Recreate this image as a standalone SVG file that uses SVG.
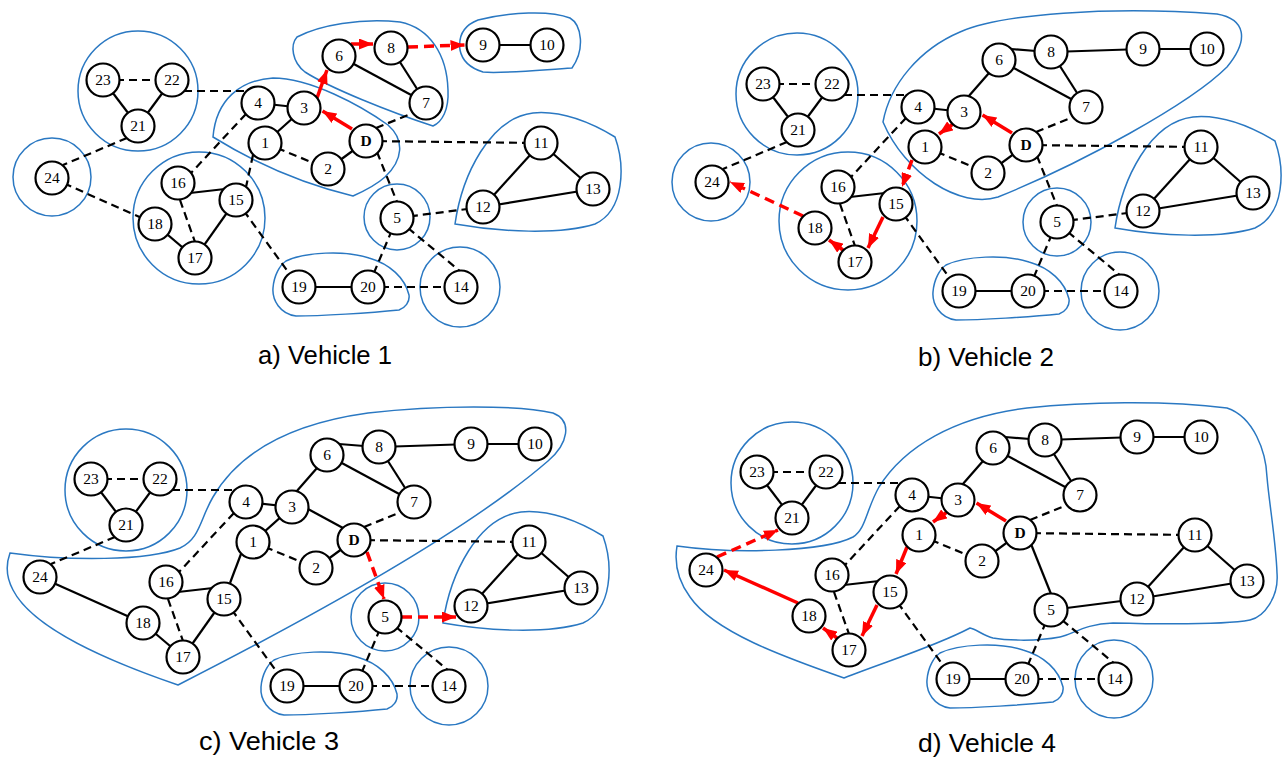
<svg xmlns="http://www.w3.org/2000/svg" width="1287" height="758" viewBox="0 0 1287 758">
<style>
.n circle{fill:#fff;stroke:#000;stroke-width:2.2}
.n text{font-family:"Liberation Serif",serif;font-size:15.5px;text-anchor:middle;fill:#000}
.n.b text{font-weight:bold}
.e line{stroke:#000;stroke-width:2.2;fill:none}
.e line.d{stroke-dasharray:8 5}
.r line{stroke:#f00;stroke-width:3.5;fill:none;marker-end:url(#ah)}
.r line.d{stroke-dasharray:10 6}
.h circle,.h path{fill:none;stroke:#2a78c2;stroke-width:1.5}
.cap{font-family:"Liberation Sans",Arial,sans-serif;font-size:25px;fill:#000}
</style>
<defs>
<marker id="ah" markerUnits="userSpaceOnUse" markerWidth="14" markerHeight="11" refX="14" refY="5.5" orient="auto"><path d="M0,0 L14,5.5 L0,11 Z" fill="#f00"/></marker>
</defs>
<rect width="1287" height="758" fill="#fff"/>

<!-- ================= Panel a ================= -->
<g id="panel-a">
<g id="a-clusters" class="h">
<circle cx="138" cy="91" r="60"/>
<circle cx="52" cy="177" r="39"/>
<circle cx="199" cy="218" r="66"/>
<circle cx="397" cy="217" r="33"/>
<circle cx="460" cy="287" r="40"/>
<path d="M213,137 C216,100 240,80 273,78 C310,78 360,105 388,125 C405,140 403,160 385,177 C375,186 362,192 353,196 C300,183 255,163 213,137 Z"/>
<path d="M297,37 C320,25 360,18 400,22 C430,28 447,55 448,90 C449,110 442,122 433,126 C390,112 330,88 305,72 C292,62 290,45 297,37 Z"/>
<path d="M460,50 C458,35 465,25 478,20 C510,12 550,10 570,18 C582,25 585,50 572,68 C540,70 500,74 483,72 C470,68 462,60 460,50 Z"/>
<path d="M455,224 C462,175 490,118 533,113 C565,110 595,125 615,137 C625,165 625,210 595,224 C560,235 500,232 455,224 Z"/>
<path d="M286,261 C305,252 345,250 369,258 C390,264 405,278 409,295 C410,302 405,308 399,310 C370,313 320,316 296,316 C280,314 272,300 273,288 C274,275 280,265 286,261 Z"/>
</g>
<g id="a-connectors">
<g class="e">
<line x1="103" y1="80" x2="172" y2="80" class="d"/>
<line x1="103" y1="80" x2="138" y2="126"/>
<line x1="172" y1="80" x2="138" y2="126"/>
<line x1="184" y1="91" x2="247" y2="91" class="d"/>
<line x1="258" y1="103" x2="304" y2="108"/>
<line x1="246" y1="114" x2="191" y2="173" class="d"/>
<line x1="265" y1="143" x2="328" y2="169" class="d"/>
<line x1="328" y1="169" x2="366" y2="141"/>
<line x1="190" y1="193" x2="225" y2="189"/>
<line x1="180" y1="200" x2="195" y2="242" class="d"/>
<line x1="236" y1="200" x2="299" y2="287" class="d"/>
<line x1="299" y1="287" x2="368" y2="287"/>
<line x1="368" y1="287" x2="461" y2="287" class="d"/>
<line x1="397" y1="218" x2="368" y2="287" class="d"/>
<line x1="408" y1="228" x2="461" y2="272" class="d"/>
<line x1="339" y1="56" x2="426" y2="103"/>
<line x1="391" y1="48" x2="426" y2="103"/>
<line x1="483" y1="45" x2="547" y2="45"/>
<line x1="541" y1="143" x2="483" y2="207"/>
<line x1="541" y1="143" x2="593" y2="189"/>
<line x1="483" y1="207" x2="593" y2="189"/>
<line x1="376" y1="128" x2="413" y2="113" class="d"/>
<line x1="366" y1="141" x2="541" y2="143" class="d"/>
<line x1="127" y1="138" x2="63" y2="165" class="d"/>
<line x1="52" y1="178" x2="155" y2="224" class="d"/>
<line x1="304" y1="108" x2="265" y2="143"/>
<line x1="253" y1="155" x2="246" y2="187" class="d"/>
<line x1="236" y1="200" x2="195" y2="258"/>
<line x1="155" y1="224" x2="195" y2="258"/>
<line x1="377" y1="152" x2="397" y2="202" class="d"/>
<line x1="397" y1="218" x2="483" y2="207" class="d"/>
</g>
<g class="r">
<line x1="352" y1="129" x2="322.5" y2="111"/>
<line x1="317" y1="98" x2="327" y2="70"/>
<line x1="351" y1="44" x2="373" y2="44"/>
<line x1="408" y1="47" x2="464.5" y2="45" class="d"/>
</g>
</g>
<g id="a-nodes">
<g id="a1" class="n" transform="translate(265,143)"><circle r="16.5"/><text y="5.2">1</text></g>
<g id="a2" class="n" transform="translate(328,169)"><circle r="16.5"/><text y="5.2">2</text></g>
<g id="a3" class="n" transform="translate(304,108)"><circle r="16.5"/><text y="5.2">3</text></g>
<g id="a4" class="n" transform="translate(258,103)"><circle r="16.5"/><text y="5.2">4</text></g>
<g id="a5" class="n" transform="translate(397,218)"><circle r="16.5"/><text y="5.2">5</text></g>
<g id="a6" class="n" transform="translate(339,56)"><circle r="16.5"/><text y="5.2">6</text></g>
<g id="a7" class="n" transform="translate(426,103)"><circle r="16.5"/><text y="5.2">7</text></g>
<g id="a8" class="n" transform="translate(391,48)"><circle r="16.5"/><text y="5.2">8</text></g>
<g id="a9" class="n" transform="translate(483,45)"><circle r="16.5"/><text y="5.2">9</text></g>
<g id="a10" class="n" transform="translate(547,45)"><circle r="16.5"/><text y="5.2">10</text></g>
<g id="a11" class="n" transform="translate(541,143)"><circle r="16.5"/><text y="5.2">11</text></g>
<g id="a12" class="n" transform="translate(483,207)"><circle r="16.5"/><text y="5.2">12</text></g>
<g id="a13" class="n" transform="translate(593,189)"><circle r="16.5"/><text y="5.2">13</text></g>
<g id="a14" class="n" transform="translate(461,287)"><circle r="16.5"/><text y="5.2">14</text></g>
<g id="a15" class="n" transform="translate(236,200)"><circle r="16.5"/><text y="5.2">15</text></g>
<g id="a16" class="n" transform="translate(178,183)"><circle r="16.5"/><text y="5.2">16</text></g>
<g id="a17" class="n" transform="translate(195,258)"><circle r="16.5"/><text y="5.2">17</text></g>
<g id="a18" class="n" transform="translate(155,224)"><circle r="16.5"/><text y="5.2">18</text></g>
<g id="a19" class="n" transform="translate(299,287)"><circle r="16.5"/><text y="5.2">19</text></g>
<g id="a20" class="n" transform="translate(368,287)"><circle r="16.5"/><text y="5.2">20</text></g>
<g id="a21" class="n" transform="translate(138,126)"><circle r="16.5"/><text y="5.2">21</text></g>
<g id="a22" class="n" transform="translate(172,80)"><circle r="16.5"/><text y="5.2">22</text></g>
<g id="a23" class="n" transform="translate(103,80)"><circle r="16.5"/><text y="5.2">23</text></g>
<g id="a24" class="n" transform="translate(52,178)"><circle r="16.5"/><text y="5.2">24</text></g>
<g id="aD" class="n b" transform="translate(366,141)"><circle r="16.5"/><text y="5.2">D</text></g>
</g>
</g>

<!-- ================= Panel b ================= -->
<g id="panel-b" transform="translate(660,4)">
<g id="b-clusters" class="h">
<circle cx="137" cy="90" r="61"/>
<circle cx="51" cy="178" r="39"/>
<circle cx="188" cy="217" r="69"/>
<circle cx="397" cy="218" r="34"/>
<circle cx="460" cy="287" r="39"/>
<path d="M223,118 C230,80 260,45 300,28 C340,10 450,2 557,10 C585,15 590,35 567,63 C530,100 420,160 338,193 C300,205 245,170 223,118 Z"/>
<path d="M455,224 C462,175 490,118 533,113 C565,110 595,125 615,137 C625,165 625,210 595,224 C560,235 500,232 455,224 Z"/>
<path d="M286,261 C305,252 345,250 369,258 C390,264 405,278 409,295 C410,302 405,308 399,310 C370,313 320,316 296,316 C280,314 272,300 273,288 C274,275 280,265 286,261 Z"/>
</g>
<g id="b-connectors">
<g class="e">
<line x1="103" y1="80" x2="172" y2="80" class="d"/>
<line x1="103" y1="80" x2="138" y2="126"/>
<line x1="172" y1="80" x2="138" y2="126"/>
<line x1="184" y1="91" x2="247" y2="91" class="d"/>
<line x1="258" y1="103" x2="304" y2="108"/>
<line x1="246" y1="114" x2="191" y2="173" class="d"/>
<line x1="265" y1="143" x2="328" y2="169" class="d"/>
<line x1="328" y1="169" x2="366" y2="141"/>
<line x1="190" y1="193" x2="225" y2="189"/>
<line x1="180" y1="200" x2="195" y2="242" class="d"/>
<line x1="236" y1="200" x2="299" y2="287" class="d"/>
<line x1="299" y1="287" x2="368" y2="287"/>
<line x1="368" y1="287" x2="461" y2="287" class="d"/>
<line x1="397" y1="218" x2="368" y2="287" class="d"/>
<line x1="408" y1="228" x2="461" y2="272" class="d"/>
<line x1="339" y1="56" x2="426" y2="103"/>
<line x1="391" y1="48" x2="426" y2="103"/>
<line x1="483" y1="45" x2="547" y2="45"/>
<line x1="541" y1="143" x2="483" y2="207"/>
<line x1="541" y1="143" x2="593" y2="189"/>
<line x1="483" y1="207" x2="593" y2="189"/>
<line x1="376" y1="128" x2="413" y2="113" class="d"/>
<line x1="366" y1="141" x2="541" y2="143" class="d"/>
<line x1="127" y1="138" x2="63" y2="165" class="d"/>
<line x1="308" y1="93" x2="329" y2="69"/>
<line x1="351" y1="45" x2="376" y2="47"/>
<line x1="391" y1="48" x2="483" y2="45"/>
<line x1="377" y1="152" x2="397" y2="202" class="d"/>
<line x1="397" y1="218" x2="483" y2="207" class="d"/>
</g>
<g class="r">
<line x1="352" y1="129" x2="322.5" y2="111"/>
<line x1="293" y1="120" x2="279" y2="130"/>
<line x1="252" y1="156" x2="242" y2="183" class="d"/>
<line x1="223" y1="213" x2="208" y2="244"/>
<line x1="183" y1="246" x2="169" y2="236"/>
<line x1="143" y1="212" x2="70" y2="178" class="d"/>
</g>
</g>
<g id="b-nodes">
<g id="b1" class="n" transform="translate(265,143)"><circle r="16.5"/><text y="5.2">1</text></g>
<g id="b2" class="n" transform="translate(328,169)"><circle r="16.5"/><text y="5.2">2</text></g>
<g id="b3" class="n" transform="translate(304,108)"><circle r="16.5"/><text y="5.2">3</text></g>
<g id="b4" class="n" transform="translate(258,103)"><circle r="16.5"/><text y="5.2">4</text></g>
<g id="b5" class="n" transform="translate(397,218)"><circle r="16.5"/><text y="5.2">5</text></g>
<g id="b6" class="n" transform="translate(339,56)"><circle r="16.5"/><text y="5.2">6</text></g>
<g id="b7" class="n" transform="translate(426,103)"><circle r="16.5"/><text y="5.2">7</text></g>
<g id="b8" class="n" transform="translate(391,48)"><circle r="16.5"/><text y="5.2">8</text></g>
<g id="b9" class="n" transform="translate(483,45)"><circle r="16.5"/><text y="5.2">9</text></g>
<g id="b10" class="n" transform="translate(547,45)"><circle r="16.5"/><text y="5.2">10</text></g>
<g id="b11" class="n" transform="translate(541,143)"><circle r="16.5"/><text y="5.2">11</text></g>
<g id="b12" class="n" transform="translate(483,207)"><circle r="16.5"/><text y="5.2">12</text></g>
<g id="b13" class="n" transform="translate(593,189)"><circle r="16.5"/><text y="5.2">13</text></g>
<g id="b14" class="n" transform="translate(461,287)"><circle r="16.5"/><text y="5.2">14</text></g>
<g id="b15" class="n" transform="translate(236,200)"><circle r="16.5"/><text y="5.2">15</text></g>
<g id="b16" class="n" transform="translate(178,183)"><circle r="16.5"/><text y="5.2">16</text></g>
<g id="b17" class="n" transform="translate(195,258)"><circle r="16.5"/><text y="5.2">17</text></g>
<g id="b18" class="n" transform="translate(155,224)"><circle r="16.5"/><text y="5.2">18</text></g>
<g id="b19" class="n" transform="translate(299,287)"><circle r="16.5"/><text y="5.2">19</text></g>
<g id="b20" class="n" transform="translate(368,287)"><circle r="16.5"/><text y="5.2">20</text></g>
<g id="b21" class="n" transform="translate(138,126)"><circle r="16.5"/><text y="5.2">21</text></g>
<g id="b22" class="n" transform="translate(172,80)"><circle r="16.5"/><text y="5.2">22</text></g>
<g id="b23" class="n" transform="translate(103,80)"><circle r="16.5"/><text y="5.2">23</text></g>
<g id="b24" class="n" transform="translate(52,178)"><circle r="16.5"/><text y="5.2">24</text></g>
<g id="bD" class="n b" transform="translate(366,141)"><circle r="16.5"/><text y="5.2">D</text></g>
</g>
</g>

<!-- ================= Panel c ================= -->
<g id="panel-c" transform="translate(-12,399)">
<g id="c-clusters" class="h">
<circle cx="138" cy="91" r="61"/>
<circle cx="397" cy="218" r="34"/>
<circle cx="461" cy="287" r="39"/>
<path d="M22,154 C80,162 160,162 192,149 C212,140 212,120 225,98 C250,55 300,25 380,14 C450,6 530,6 565,14 C585,22 580,45 560,62 C470,140 300,230 190,286 C120,262 45,230 25,191 C18,178 18,165 22,154 Z"/>
<path d="M455,224 C462,175 490,118 533,113 C565,110 595,125 615,137 C625,165 625,210 595,224 C560,235 500,232 455,224 Z"/>
<path d="M286,261 C305,252 345,250 369,258 C390,264 405,278 409,295 C410,302 405,308 399,310 C370,313 320,316 296,316 C280,314 272,300 273,288 C274,275 280,265 286,261 Z"/>
</g>
<g id="c-connectors">
<g class="e">
<line x1="103" y1="80" x2="172" y2="80" class="d"/>
<line x1="103" y1="80" x2="138" y2="126"/>
<line x1="172" y1="80" x2="138" y2="126"/>
<line x1="184" y1="91" x2="247" y2="91" class="d"/>
<line x1="258" y1="103" x2="304" y2="108"/>
<line x1="246" y1="114" x2="191" y2="173" class="d"/>
<line x1="265" y1="143" x2="328" y2="169" class="d"/>
<line x1="328" y1="169" x2="366" y2="141"/>
<line x1="190" y1="193" x2="225" y2="189"/>
<line x1="180" y1="200" x2="195" y2="242" class="d"/>
<line x1="236" y1="200" x2="299" y2="287" class="d"/>
<line x1="299" y1="287" x2="368" y2="287"/>
<line x1="368" y1="287" x2="461" y2="287" class="d"/>
<line x1="397" y1="218" x2="368" y2="287" class="d"/>
<line x1="408" y1="228" x2="461" y2="272" class="d"/>
<line x1="339" y1="56" x2="426" y2="103"/>
<line x1="391" y1="48" x2="426" y2="103"/>
<line x1="483" y1="45" x2="547" y2="45"/>
<line x1="541" y1="143" x2="483" y2="207"/>
<line x1="541" y1="143" x2="593" y2="189"/>
<line x1="483" y1="207" x2="593" y2="189"/>
<line x1="376" y1="128" x2="413" y2="113" class="d"/>
<line x1="366" y1="141" x2="541" y2="143" class="d"/>
<line x1="127" y1="138" x2="63" y2="165" class="d"/>
<line x1="52" y1="178" x2="155" y2="224"/>
<line x1="304" y1="108" x2="265" y2="143"/>
<line x1="253" y1="155" x2="242" y2="184"/>
<line x1="236" y1="200" x2="195" y2="258"/>
<line x1="155" y1="224" x2="195" y2="258"/>
<line x1="308" y1="93" x2="329" y2="69"/>
<line x1="351" y1="45" x2="376" y2="47"/>
<line x1="391" y1="48" x2="483" y2="45"/>
<line x1="320" y1="110" x2="355" y2="129"/>
</g>
<g class="r">
<line x1="379" y1="153" x2="396" y2="200" class="d"/>
<line x1="414" y1="218" x2="468" y2="218" class="d"/>
</g>
</g>
<g id="c-nodes">
<g id="c1" class="n" transform="translate(265,143)"><circle r="16.5"/><text y="5.2">1</text></g>
<g id="c2" class="n" transform="translate(328,169)"><circle r="16.5"/><text y="5.2">2</text></g>
<g id="c3" class="n" transform="translate(304,108)"><circle r="16.5"/><text y="5.2">3</text></g>
<g id="c4" class="n" transform="translate(258,103)"><circle r="16.5"/><text y="5.2">4</text></g>
<g id="c5" class="n" transform="translate(397,218)"><circle r="16.5"/><text y="5.2">5</text></g>
<g id="c6" class="n" transform="translate(339,56)"><circle r="16.5"/><text y="5.2">6</text></g>
<g id="c7" class="n" transform="translate(426,103)"><circle r="16.5"/><text y="5.2">7</text></g>
<g id="c8" class="n" transform="translate(391,48)"><circle r="16.5"/><text y="5.2">8</text></g>
<g id="c9" class="n" transform="translate(483,45)"><circle r="16.5"/><text y="5.2">9</text></g>
<g id="c10" class="n" transform="translate(547,45)"><circle r="16.5"/><text y="5.2">10</text></g>
<g id="c11" class="n" transform="translate(541,143)"><circle r="16.5"/><text y="5.2">11</text></g>
<g id="c12" class="n" transform="translate(483,207)"><circle r="16.5"/><text y="5.2">12</text></g>
<g id="c13" class="n" transform="translate(593,189)"><circle r="16.5"/><text y="5.2">13</text></g>
<g id="c14" class="n" transform="translate(461,287)"><circle r="16.5"/><text y="5.2">14</text></g>
<g id="c15" class="n" transform="translate(236,200)"><circle r="16.5"/><text y="5.2">15</text></g>
<g id="c16" class="n" transform="translate(178,183)"><circle r="16.5"/><text y="5.2">16</text></g>
<g id="c17" class="n" transform="translate(195,258)"><circle r="16.5"/><text y="5.2">17</text></g>
<g id="c18" class="n" transform="translate(155,224)"><circle r="16.5"/><text y="5.2">18</text></g>
<g id="c19" class="n" transform="translate(299,287)"><circle r="16.5"/><text y="5.2">19</text></g>
<g id="c20" class="n" transform="translate(368,287)"><circle r="16.5"/><text y="5.2">20</text></g>
<g id="c21" class="n" transform="translate(138,126)"><circle r="16.5"/><text y="5.2">21</text></g>
<g id="c22" class="n" transform="translate(172,80)"><circle r="16.5"/><text y="5.2">22</text></g>
<g id="c23" class="n" transform="translate(103,80)"><circle r="16.5"/><text y="5.2">23</text></g>
<g id="c24" class="n" transform="translate(52,178)"><circle r="16.5"/><text y="5.2">24</text></g>
<g id="cD" class="n b" transform="translate(366,141)"><circle r="16.5"/><text y="5.2">D</text></g>
</g>
</g>

<!-- ================= Panel d ================= -->
<g id="panel-d" transform="translate(654,392)">
<g id="d-clusters" class="h">
<circle cx="138" cy="91" r="61"/>
<circle cx="460" cy="287" r="39"/>
<path d="M23,154 C80,162 170,160 199,145 C212,137 212,118 225,95 C250,55 300,25 373,16 C430,10 510,8 573,16 C600,25 612,60 613,85 C615,110 622,150 623,181 C625,205 610,225 596,228 C570,233 500,232 459,231 C430,232 420,242 406,245 C380,250 350,248 339,246 C330,244 322,237 316,236 C280,255 230,270 190,286 C130,265 60,240 36,205 C25,190 20,172 23,154 Z"/>
<path d="M286,261 C305,252 345,250 369,258 C390,264 405,278 409,295 C410,302 405,308 399,310 C370,313 320,316 296,316 C280,314 272,300 273,288 C274,275 280,265 286,261 Z"/>
</g>
<g id="d-connectors">
<g class="e">
<line x1="103" y1="80" x2="172" y2="80" class="d"/>
<line x1="103" y1="80" x2="138" y2="126"/>
<line x1="172" y1="80" x2="138" y2="126"/>
<line x1="184" y1="91" x2="247" y2="91" class="d"/>
<line x1="258" y1="103" x2="304" y2="108"/>
<line x1="246" y1="114" x2="191" y2="173" class="d"/>
<line x1="265" y1="143" x2="328" y2="169" class="d"/>
<line x1="328" y1="169" x2="366" y2="141"/>
<line x1="190" y1="193" x2="225" y2="189"/>
<line x1="180" y1="200" x2="195" y2="242" class="d"/>
<line x1="236" y1="200" x2="299" y2="287" class="d"/>
<line x1="299" y1="287" x2="368" y2="287"/>
<line x1="368" y1="287" x2="461" y2="287" class="d"/>
<line x1="397" y1="218" x2="368" y2="287" class="d"/>
<line x1="408" y1="228" x2="461" y2="272" class="d"/>
<line x1="339" y1="56" x2="426" y2="103"/>
<line x1="391" y1="48" x2="426" y2="103"/>
<line x1="483" y1="45" x2="547" y2="45"/>
<line x1="541" y1="143" x2="483" y2="207"/>
<line x1="541" y1="143" x2="593" y2="189"/>
<line x1="483" y1="207" x2="593" y2="189"/>
<line x1="376" y1="128" x2="413" y2="113" class="d"/>
<line x1="366" y1="141" x2="541" y2="143" class="d"/>
<line x1="308" y1="93" x2="329" y2="69"/>
<line x1="351" y1="45" x2="376" y2="47"/>
<line x1="391" y1="48" x2="483" y2="45"/>
<line x1="377" y1="152" x2="397" y2="202"/>
<line x1="397" y1="218" x2="483" y2="207"/>
</g>
<g class="r">
<line x1="352" y1="129" x2="322.5" y2="111"/>
<line x1="293" y1="120" x2="279" y2="130"/>
<line x1="253" y1="155" x2="242" y2="182"/>
<line x1="223" y1="213" x2="208" y2="244"/>
<line x1="183" y1="246" x2="169" y2="236"/>
<line x1="144" y1="211" x2="70" y2="178"/>
<line x1="63" y1="165" x2="124" y2="138" class="d"/>
</g>
</g>
<g id="d-nodes">
<g id="d1" class="n" transform="translate(265,143)"><circle r="16.5"/><text y="5.2">1</text></g>
<g id="d2" class="n" transform="translate(328,169)"><circle r="16.5"/><text y="5.2">2</text></g>
<g id="d3" class="n" transform="translate(304,108)"><circle r="16.5"/><text y="5.2">3</text></g>
<g id="d4" class="n" transform="translate(258,103)"><circle r="16.5"/><text y="5.2">4</text></g>
<g id="d5" class="n" transform="translate(397,218)"><circle r="16.5"/><text y="5.2">5</text></g>
<g id="d6" class="n" transform="translate(339,56)"><circle r="16.5"/><text y="5.2">6</text></g>
<g id="d7" class="n" transform="translate(426,103)"><circle r="16.5"/><text y="5.2">7</text></g>
<g id="d8" class="n" transform="translate(391,48)"><circle r="16.5"/><text y="5.2">8</text></g>
<g id="d9" class="n" transform="translate(483,45)"><circle r="16.5"/><text y="5.2">9</text></g>
<g id="d10" class="n" transform="translate(547,45)"><circle r="16.5"/><text y="5.2">10</text></g>
<g id="d11" class="n" transform="translate(541,143)"><circle r="16.5"/><text y="5.2">11</text></g>
<g id="d12" class="n" transform="translate(483,207)"><circle r="16.5"/><text y="5.2">12</text></g>
<g id="d13" class="n" transform="translate(593,189)"><circle r="16.5"/><text y="5.2">13</text></g>
<g id="d14" class="n" transform="translate(461,287)"><circle r="16.5"/><text y="5.2">14</text></g>
<g id="d15" class="n" transform="translate(236,200)"><circle r="16.5"/><text y="5.2">15</text></g>
<g id="d16" class="n" transform="translate(178,183)"><circle r="16.5"/><text y="5.2">16</text></g>
<g id="d17" class="n" transform="translate(195,258)"><circle r="16.5"/><text y="5.2">17</text></g>
<g id="d18" class="n" transform="translate(155,224)"><circle r="16.5"/><text y="5.2">18</text></g>
<g id="d19" class="n" transform="translate(299,287)"><circle r="16.5"/><text y="5.2">19</text></g>
<g id="d20" class="n" transform="translate(368,287)"><circle r="16.5"/><text y="5.2">20</text></g>
<g id="d21" class="n" transform="translate(138,126)"><circle r="16.5"/><text y="5.2">21</text></g>
<g id="d22" class="n" transform="translate(172,80)"><circle r="16.5"/><text y="5.2">22</text></g>
<g id="d23" class="n" transform="translate(103,80)"><circle r="16.5"/><text y="5.2">23</text></g>
<g id="d24" class="n" transform="translate(52,178)"><circle r="16.5"/><text y="5.2">24</text></g>
<g id="dD" class="n b" transform="translate(366,141)"><circle r="16.5"/><text y="5.2">D</text></g>
</g>
</g>

<g id="captions">
<text class="cap" x="258" y="364" textLength="134" lengthAdjust="spacingAndGlyphs">a) Vehicle 1</text>
<text class="cap" x="918" y="366" textLength="136" lengthAdjust="spacingAndGlyphs">b) Vehicle 2</text>
<text class="cap" x="199" y="750" textLength="140" lengthAdjust="spacingAndGlyphs">c) Vehicle 3</text>
<text class="cap" x="918" y="752" textLength="138" lengthAdjust="spacingAndGlyphs">d) Vehicle 4</text>
</g>
</svg>
